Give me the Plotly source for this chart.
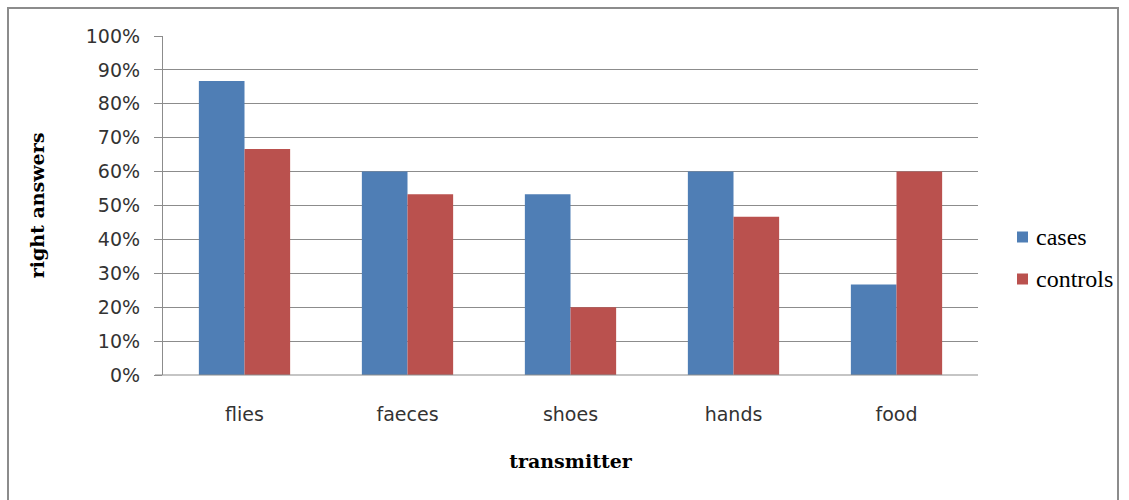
import plotly.graph_objects as go

categories = ["flies", "faeces", "shoes", "hands", "food"]
cases = [0.867, 0.60, 0.533, 0.60, 0.267]
controls = [0.667, 0.533, 0.20, 0.467, 0.60]
series_names = ["cases", "controls"]
series_colors = ["#4F7EB5", "#BA514E"]

W, H = 1129, 500
L, R, T, B = 163, 978, 36, 375
pw, ph = R - L, B - T

fig = go.Figure()
for name, vals, col in zip(series_names, [cases, controls], series_colors):
    fig.add_trace(go.Bar(x=categories, y=vals, name=name,
                         marker=dict(color=col, line=dict(width=0))))

tick_font = dict(family="DejaVu Sans", size=19, color="#333")
serif_bold = dict(family="DejaVu Serif", size=19, color="#000")
legend_font = dict(family="Liberation Serif", size=24, color="#000")

def px_x(x):
    return (x - L) / pw

def px_y(y):
    return (B - y) / ph

shapes = [
    dict(type="line", xref="paper", yref="paper", x0=-8 / pw, x1=1, y0=0, y1=0,
         line=dict(color="#8c8c8c", width=1.2)),
    dict(type="rect", xref="paper", yref="paper",
         x0=px_x(8), x1=px_x(1118), y0=px_y(510), y1=px_y(8),
         line=dict(color="#8c8c8c", width=2), fillcolor="rgba(0,0,0,0)", layer="below"),
]
annotations = []
# legend (drawn manually so the serif font is kept)
for i, (name, col) in enumerate(zip(series_names, series_colors)):
    cy = 237 + 42 * i
    shapes.append(dict(type="rect", xref="paper", yref="paper",
                       x0=px_x(1017), x1=px_x(1028), y0=px_y(cy + 5.5), y1=px_y(cy - 5.5),
                       line=dict(width=0), fillcolor=col))
    annotations.append(dict(x=px_x(1034), y=px_y(cy), xref="paper", yref="paper",
                            text=name, showarrow=False, xanchor="left", yanchor="middle",
                            font=legend_font))

fig.update_layout(
    width=W, height=H,
    font=dict(family="DejaVu Serif", size=20, color="#000"),
    margin=dict(l=L, r=W - R, t=T, b=H - B, autoexpand=False),
    paper_bgcolor="white", plot_bgcolor="white",
    barmode="group", bargap=0.44, bargroupgap=0,
    showlegend=False,
    xaxis=dict(showgrid=False, showline=False, ticks="", tickfont=tick_font,
               ticklabelstandoff=26, zeroline=False,
               title=dict(text="<b>transmitter</b>", font=serif_bold, standoff=30)),
    yaxis=dict(range=[0, 1], dtick=0.1, tickformat=".0%", showgrid=True,
               gridcolor="#8c8c8c", gridwidth=1.2, showline=True, linecolor="#8c8c8c",
               linewidth=1.2, ticks="outside", ticklen=8, tickcolor="#8c8c8c",
               tickwidth=1.2, tickfont=tick_font, ticklabelstandoff=10, zeroline=False,
               title=dict(text="<b>right answers</b>", font=serif_bold, standoff=36)),
    shapes=shapes,
    annotations=annotations,
)

fig.write_html("out.html")
